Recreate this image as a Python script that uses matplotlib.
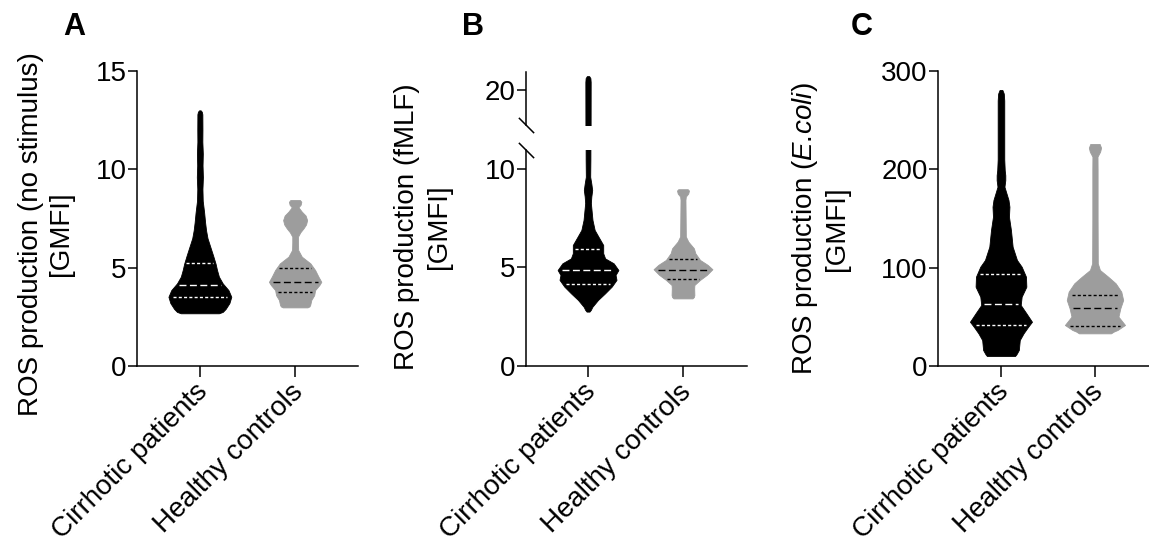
import numpy as np
import matplotlib
matplotlib.use("Agg")
import matplotlib.pyplot as plt
from matplotlib.transforms import ScaledTranslation

plt.rcParams['font.family'] = ['Liberation Sans', 'DejaVu Sans']
plt.rcParams['mathtext.fontset'] = 'custom'
plt.rcParams['mathtext.rm'] = 'Liberation Sans'
plt.rcParams['mathtext.it'] = 'Liberation Sans:italic'

# ---------------- data ----------------
categories = ["Cirrhotic patients", "Healthy controls"]
colors = ["#000000", "#9d9d9d"]
quart_colors = ["white", "black"]

# Panel A (no stimulus): violin profiles (value, half-width in category units)
a_cir_y = [2.68, 2.75, 2.9, 3.2, 3.52, 3.86, 4.2, 4.54, 4.88, 5.2, 5.6, 6.05, 6.5, 6.9, 7.3, 7.8,
           8.4, 9.0, 9.6, 10.2, 10.8, 11.4, 12.0, 12.8, 12.93, 13.0]
a_cir_w = [0.20, 0.24, 0.27, 0.31, 0.33, 0.30, 0.24, 0.20, 0.18, 0.165, 0.14, 0.11, 0.08, 0.065,
           0.055, 0.045, 0.03, 0.027, 0.032, 0.028, 0.031, 0.026, 0.027, 0.026, 0.02, 0.008]
a_hc_y = [2.98, 3.03, 3.1, 3.36, 3.6, 3.86, 4.12, 4.28, 4.54, 4.88, 5.22, 5.56, 5.9, 6.3, 6.58,
          6.8, 7.0, 7.2, 7.42, 7.65, 7.85, 8.07, 8.2, 8.35, 8.44]
a_hc_w = [0.13, 0.15, 0.158, 0.17, 0.20, 0.21, 0.255, 0.275, 0.245, 0.21, 0.16, 0.07, 0.032, 0.03,
          0.03, 0.055, 0.088, 0.115, 0.126, 0.11, 0.07, 0.035, 0.058, 0.065, 0.05]
a_cir_q = [3.52, 4.12, 5.22]   # Q1, median, Q3
a_hc_q = [3.78, 4.28, 4.96]

# Panel B (fMLF)
b_cir_y = [2.76, 2.85, 3.0, 3.35, 3.69, 4.03, 4.37, 4.62, 4.87, 5.21, 5.46, 5.72, 6.14, 6.56, 6.9,
           7.41, 8.27, 8.6, 8.93, 9.25, 9.6, 10.5, 20.4, 20.6, 20.7]
b_cir_w = [0.015, 0.03, 0.045, 0.105, 0.18, 0.25, 0.30, 0.29, 0.32, 0.27, 0.18, 0.16, 0.16, 0.11,
           0.07, 0.047, 0.03, 0.035, 0.044, 0.035, 0.023, 0.025, 0.028, 0.025, 0.012]
b_hc_y = [3.43, 3.5, 3.6, 3.94, 4.11, 4.37, 4.62, 4.91, 5.13, 5.38, 5.72, 5.97, 6.31, 6.57, 7.5,
          8.43, 8.6, 8.75, 8.9, 8.97]
b_hc_w = [0.10, 0.115, 0.12, 0.118, 0.12, 0.18, 0.25, 0.31, 0.26, 0.18, 0.13, 0.115, 0.056, 0.03,
          0.028, 0.026, 0.03, 0.055, 0.063, 0.05]
b_cir_q = [4.16, 4.87, 5.92]
b_hc_q = [4.42, 4.87, 5.42]

# Panel C (E. coli)
c_cir_y = [10.2, 12, 16.3, 26.4, 33.2, 40, 45, 53.6, 62, 70.5, 80.6, 90.8, 101, 107.8, 121.3, 138.3,
           151.8, 162, 168.8, 182.3, 189, 194, 199, 210, 240, 270, 277, 280.7]
c_cir_w = [0.15, 0.165, 0.19, 0.2, 0.24, 0.29, 0.33, 0.27, 0.21, 0.22, 0.27, 0.266, 0.22, 0.17,
           0.124, 0.106, 0.085, 0.09, 0.08, 0.037, 0.046, 0.046, 0.04, 0.035, 0.035, 0.035, 0.03, 0.015]
c_hc_y = [33.2, 35, 36.6, 41.7, 50.2, 58.7, 67.1, 75.6, 84.1, 90.8, 97.6, 104.4, 150, 200, 212.9,
          218, 222, 225.8]
c_hc_w = [0.17, 0.2, 0.24, 0.32, 0.25, 0.27, 0.30, 0.28, 0.22, 0.14, 0.053, 0.03, 0.028, 0.028,
          0.027, 0.055, 0.065, 0.05]
c_cir_q = [41.7, 63.0, 93.2]
c_hc_q = [41.0, 58.7, 72.2]

ylabels = ["ROS production (no stimulus)\n[GMFI]",
           "ROS production (fMLF)\n[GMFI]",
           "ROS production ($\\mathit{E.\\!coli}$)\n[GMFI]"]
letters = ["A", "B", "C"]

# ---------------- layout ----------------
W, H = 1149, 546
fig = plt.figure(figsize=(W / 100, H / 100), dpi=100)
FS = 20
LW = 1.1


def add_ax(l, r, t, b):
    return fig.add_axes([l / W, 1 - b / H, (r - l) / W, (b - t) / H])


def style(ax, bottom=True):
    for s in ["top", "right"]:
        ax.spines[s].set_visible(False)
    ax.spines["left"].set_linewidth(LW)
    ax.spines["bottom"].set_linewidth(LW)
    ax.spines["bottom"].set_visible(bottom)
    ax.tick_params(axis="y", length=6.5, width=LW, labelsize=FS, pad=1)
    ax.tick_params(axis="x", length=8, width=LW, labelsize=FS, pad=2)
    ax.set_xlim(-0.66, 1.66)


def violin(ax, pos, y, w, q, color, qcolor):
    y = np.asarray(y, float)
    w = np.asarray(w, float)
    ax.fill_betweenx(y, pos - w, pos + w, color=color, lw=0.6, edgecolor=color, zorder=2)
    styles = [(0, (2.2, 1.6)), (0, (5, 2.5)), (0, (2.2, 1.6))]
    for val, ls in zip(q, styles):
        hw = np.interp(val, y, w) * 0.86
        ax.hlines(val, pos - hw, pos + hw, colors=qcolor, linestyles=[ls], lw=1.0, zorder=3)


shift = ScaledTranslation(-5 / 100, 1 / 100, fig.dpi_scale_trans)


def xcats(ax):
    ax.set_xticks([0, 1])
    ax.set_xticklabels(categories, rotation=45, ha="right", va="top", rotation_mode="anchor")
    for lab in ax.get_xticklabels():
        lab.set_transform(lab.get_transform() + shift)


# Panel A
axA = add_ax(137, 358, 71, 366)
style(axA)
violin(axA, 0, a_cir_y, a_cir_w, a_cir_q, colors[0], quart_colors[0])
violin(axA, 1, a_hc_y, a_hc_w, a_hc_q, colors[1], quart_colors[1])
axA.set_ylim(0, 15)
axA.set_yticks([0, 5, 10, 15])
xcats(axA)

# Panel B (broken axis)
axB = add_ax(526, 747, 150, 366)
style(axB)
axB.set_xlim(-0.653, 1.674)
violin(axB, 0, b_cir_y, b_cir_w, b_cir_q, colors[0], quart_colors[0])
violin(axB, 1, b_hc_y, b_hc_w, b_hc_q, colors[1], quart_colors[1])
axB.set_ylim(0, 10.96)
axB.set_yticks([0, 5, 10])
xcats(axB)

axBt = add_ax(526, 747, 72, 125)
style(axBt, bottom=False)
axBt.set_xlim(-0.653, 1.674)
violin(axBt, 0, b_cir_y, b_cir_w, b_cir_q, colors[0], quart_colors[0])
axBt.set_ylim(18.22, 20.91)
axBt.set_yticks([20])
axBt.set_xticks([])
axBt.patch.set_visible(False)

brk = [(-1, 1), (1, -1)]
for ax_, yy in [(axBt, 0), (axB, 1)]:
    ax_.plot([0], [yy], marker=brk, markersize=11, mew=LW, color="black",
             transform=ax_.transAxes, clip_on=False, zorder=5)

# Panel C
axC = add_ax(938, 1157, 71, 366)
style(axC)
axC.set_xlim(-0.67, 1.66)
violin(axC, 0, c_cir_y, c_cir_w, c_cir_q, colors[0], quart_colors[0])
violin(axC, 1, c_hc_y, c_hc_w, c_hc_q, colors[1], quart_colors[1])
axC.set_ylim(0, 300)
axC.set_yticks([0, 100, 200, 300])
xcats(axC)

# y labels
for (xc, yc), lab in zip([(46, 234), (423, 227), (820, 229)], ylabels):
    fig.text(xc / W, 1 - yc / H, lab, rotation=90, ha="center", va="center",
             multialignment="center", fontsize=FS, linespacing=1.25)

# panel letters
for (xl, yb), let in zip([(63, 35), (462, 35), (851, 35)], letters):
    fig.text(xl / W, 1 - yb / H, let, fontsize=22, fontweight="bold", ha="left", va="baseline")

fig.savefig("out.png", dpi=100)
